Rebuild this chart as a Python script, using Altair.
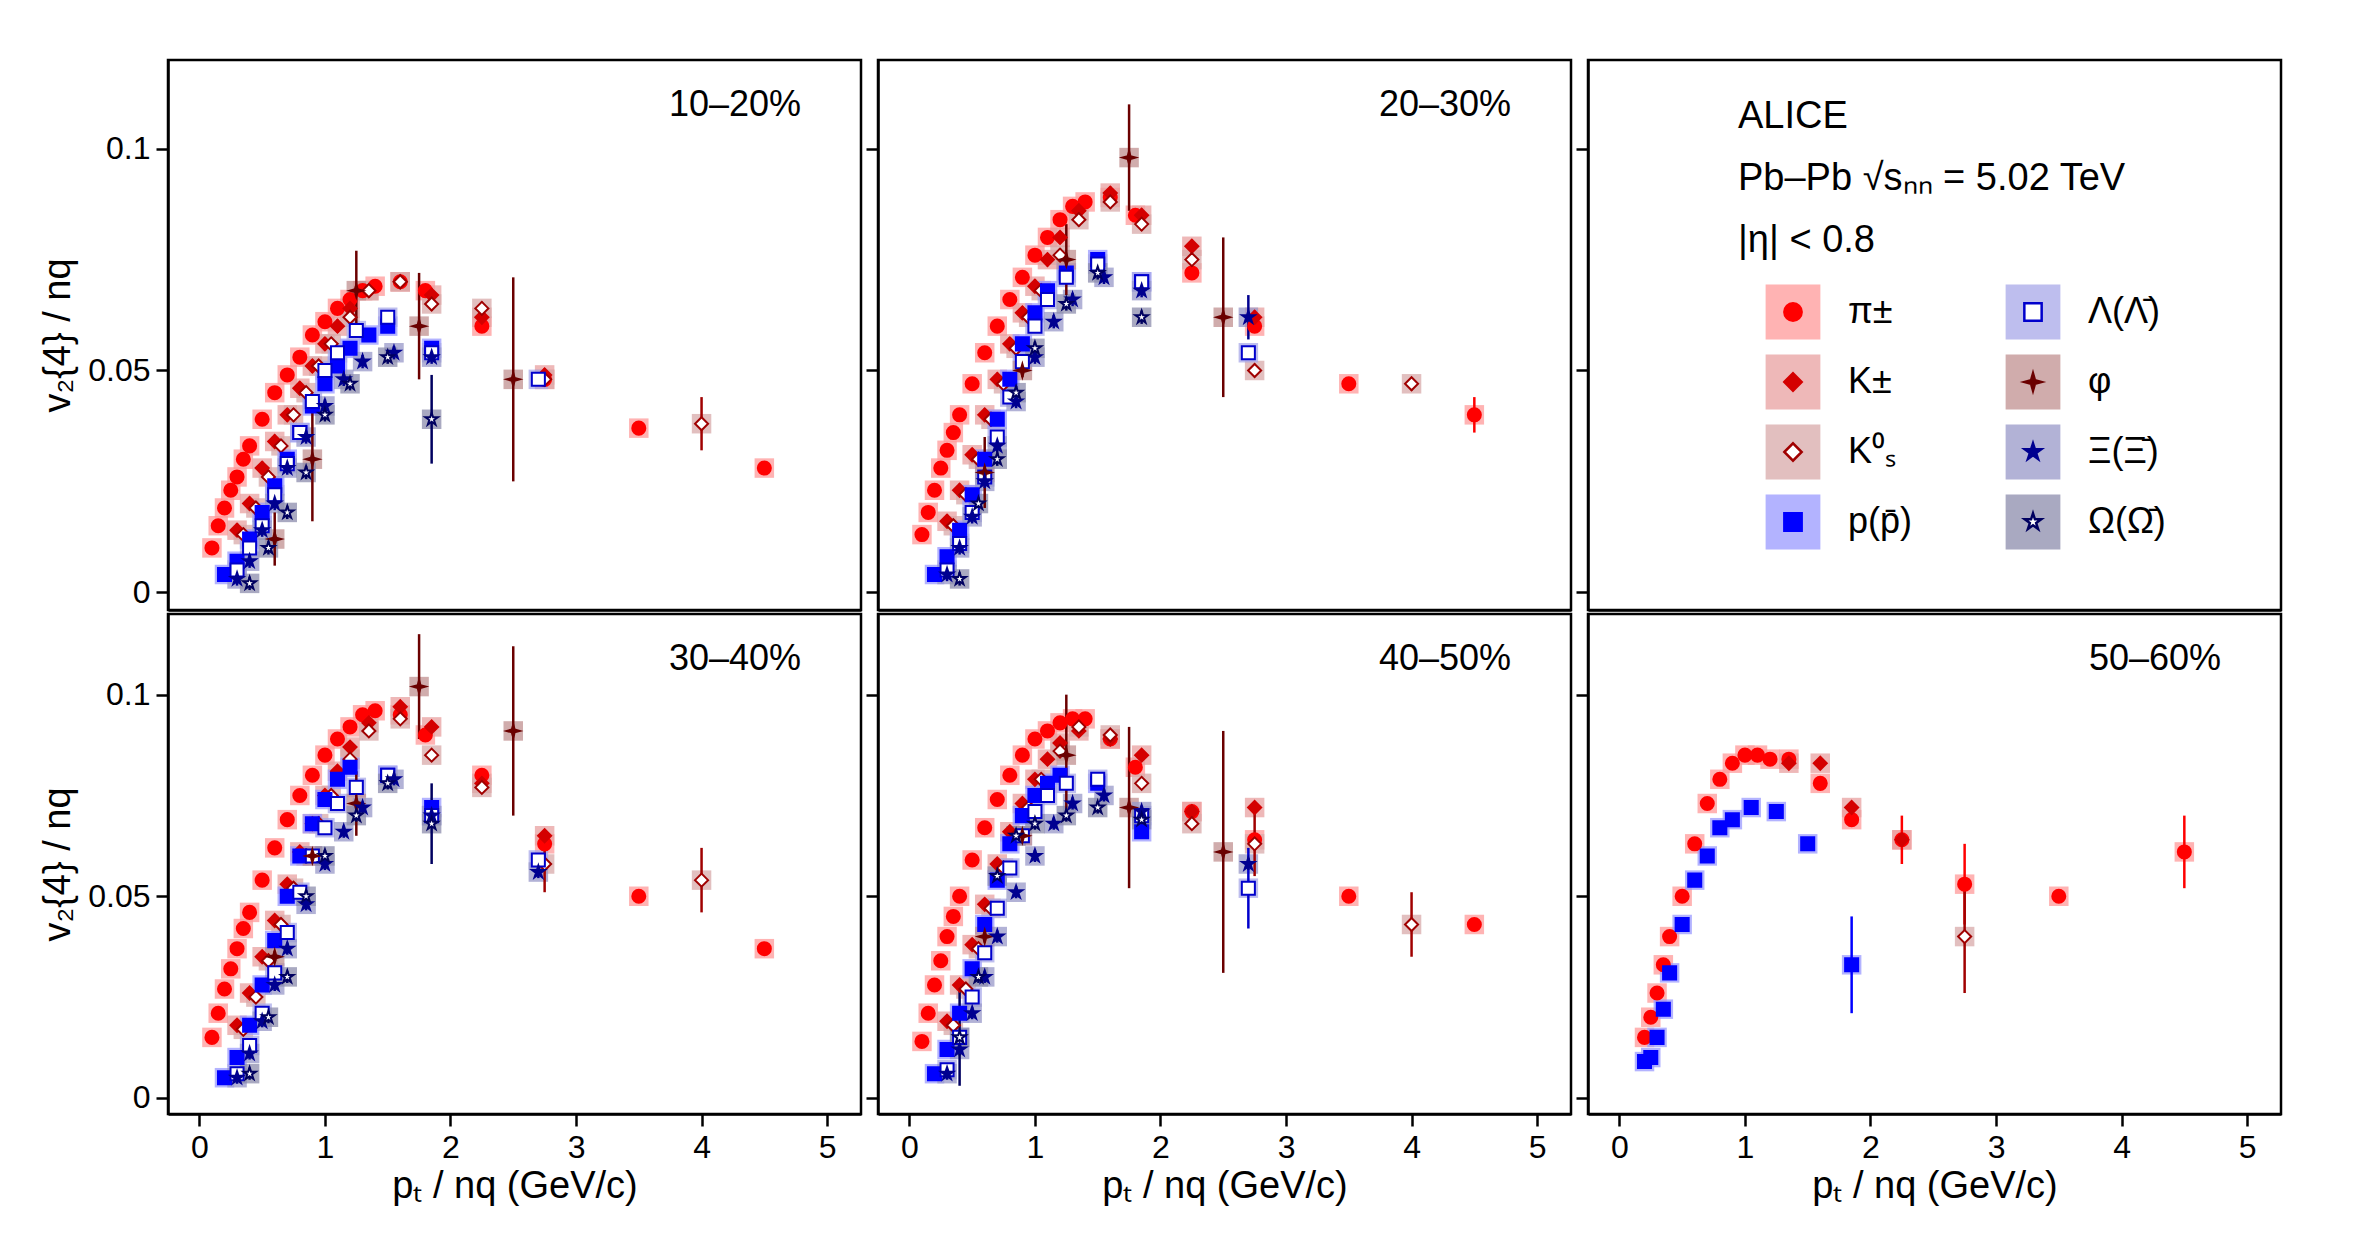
import altair as alt
import pandas as pd

SPECIES = ["π±", "K±", "K⁰ₛ", "p(p̄)", "Λ(Λ̄)", "φ", "Ξ(Ξ̄)", "Ω(Ω̄)"]

DATA = {
 "10–20%": {
  "π±": ([0.1,0.15,0.2,0.25,0.3,0.35,0.4,0.5,0.6,0.7,0.8,0.9,1.0,1.1,1.2,1.3,1.4,1.6,1.8,2.25,2.75,3.5,4.5],
         [0.010,0.015,0.019,0.023,0.026,0.030,0.033,0.039,0.045,0.049,0.053,0.058,0.061,0.064,0.066,0.068,0.069,0.070,0.068,0.060,0.048,0.037,0.028]),
  "K±": ([0.3,0.4,0.5,0.6,0.7,0.8,0.9,1.0,1.1,1.2,1.35,1.6,1.85,2.25,2.75],
         [0.014,0.020,0.028,0.034,0.040,0.046,0.051,0.056,0.060,0.064,0.068,0.070,0.067,0.062,0.049]),
  "K⁰ₛ": ([0.35,0.45,0.55,0.65,0.75,0.85,0.95,1.05,1.2,1.35,1.6,1.85,2.25,2.75,4.0],
          [0.013,0.019,0.026,0.033,0.040,0.045,0.051,0.056,0.062,0.068,0.070,0.065,0.064,0.048,0.038]),
  "p(p̄)": ([0.2,0.3,0.4,0.5,0.6,0.7,0.8,0.9,1.0,1.1,1.2,1.35,1.5,1.85],
           [0.004,0.007,0.012,0.018,0.024,0.030,0.036,0.042,0.047,0.051,0.055,0.058,0.060,0.055]),
  "Λ(Λ̄)": ([0.3,0.4,0.5,0.6,0.7,0.8,0.9,1.0,1.1,1.25,1.5,1.85,2.7],
           [0.005,0.010,0.015,0.022,0.029,0.036,0.043,0.050,0.054,0.059,0.062,0.054,0.048]),
  "φ": ([0.6,0.9,1.25,1.75,2.5], [0.012,0.030,0.068,0.060,0.048]),
  "Ξ(Ξ̄)": ([0.3,0.4,0.5,0.6,0.7,0.85,1.0,1.15,1.3,1.55,1.85],
           [0.003,0.007,0.014,0.020,0.028,0.035,0.042,0.048,0.052,0.054,0.053]),
  "Ω(Ω̄)": ([0.4,0.55,0.7,0.85,1.0,1.2,1.5,1.85], [0.002,0.010,0.018,0.027,0.040,0.047,0.053,0.039]),
 },
 "20–30%": {
  "π±": ([0.1,0.15,0.2,0.25,0.3,0.35,0.4,0.5,0.6,0.7,0.8,0.9,1.0,1.1,1.2,1.3,1.4,1.6,1.8,2.25,2.75,3.5,4.5],
         [0.013,0.018,0.023,0.028,0.032,0.036,0.040,0.047,0.054,0.060,0.066,0.071,0.076,0.080,0.084,0.087,0.088,0.089,0.085,0.072,0.060,0.047,0.040]),
  "K±": ([0.3,0.4,0.5,0.6,0.7,0.8,0.9,1.0,1.1,1.2,1.35,1.6,1.85,2.25,2.75],
         [0.016,0.023,0.031,0.040,0.048,0.056,0.063,0.069,0.075,0.080,0.086,0.090,0.085,0.078,0.062]),
  "K⁰ₛ": ([0.35,0.45,0.55,0.65,0.75,0.85,0.95,1.05,1.2,1.35,1.6,1.85,2.25,2.75,4.0],
          [0.015,0.022,0.030,0.039,0.047,0.055,0.062,0.068,0.076,0.084,0.088,0.083,0.075,0.050,0.047]),
  "p(p̄)": ([0.2,0.3,0.4,0.5,0.6,0.7,0.8,0.9,1.0,1.1,1.25,1.5,1.85],
           [0.004,0.008,0.014,0.022,0.030,0.039,0.048,0.056,0.063,0.068,0.072,0.075,0.070]),
  "Λ(Λ̄)": ([0.3,0.4,0.5,0.6,0.7,0.8,0.9,1.0,1.1,1.25,1.5,1.85,2.7],
           [0.005,0.011,0.018,0.026,0.035,0.044,0.052,0.060,0.066,0.071,0.074,0.070,0.054]),
  "φ": ([0.6,0.9,1.25,1.75,2.5], [0.027,0.050,0.075,0.098,0.062]),
  "Ξ(Ξ̄)": ([0.3,0.4,0.5,0.6,0.7,0.85,1.0,1.15,1.3,1.55,1.85,2.7],
           [0.004,0.010,0.017,0.025,0.033,0.043,0.053,0.061,0.066,0.071,0.068,0.062]),
  "Ω(Ω̄)": ([0.4,0.55,0.7,0.85,1.0,1.25,1.5,1.85], [0.003,0.020,0.030,0.045,0.055,0.065,0.072,0.062]),
 },
 "30–40%": {
  "π±": ([0.1,0.15,0.2,0.25,0.3,0.35,0.4,0.5,0.6,0.7,0.8,0.9,1.0,1.1,1.2,1.3,1.4,1.6,1.8,2.25,2.75,3.5,4.5],
         [0.015,0.021,0.027,0.032,0.037,0.042,0.046,0.054,0.062,0.069,0.075,0.080,0.085,0.089,0.092,0.095,0.096,0.095,0.090,0.080,0.063,0.050,0.037]),
  "K±": ([0.3,0.4,0.5,0.6,0.7,0.8,0.9,1.0,1.1,1.2,1.35,1.6,1.85,2.25,2.75],
         [0.018,0.026,0.035,0.044,0.053,0.061,0.068,0.075,0.081,0.087,0.093,0.097,0.092,0.078,0.065]),
  "K⁰ₛ": ([0.35,0.45,0.55,0.65,0.75,0.85,0.95,1.05,1.2,1.35,1.6,1.85,2.25,2.75,4.0],
          [0.017,0.025,0.034,0.043,0.052,0.060,0.068,0.075,0.084,0.091,0.094,0.085,0.077,0.058,0.054]),
  "p(p̄)": ([0.2,0.3,0.4,0.5,0.6,0.7,0.8,0.9,1.0,1.1,1.2,1.5,1.85],
           [0.005,0.010,0.018,0.028,0.039,0.050,0.060,0.068,0.074,0.079,0.082,0.080,0.072]),
  "Λ(Λ̄)": ([0.3,0.4,0.5,0.6,0.7,0.8,0.9,1.0,1.1,1.25,1.5,1.85,2.7],
           [0.006,0.013,0.021,0.031,0.041,0.051,0.060,0.067,0.073,0.077,0.080,0.070,0.059]),
  "φ": ([0.6,0.9,1.25,1.75,2.5], [0.035,0.060,0.073,0.102,0.091]),
  "Ξ(Ξ̄)": ([0.3,0.4,0.5,0.6,0.7,0.85,1.0,1.15,1.3,1.55,1.85,2.7],
           [0.005,0.011,0.019,0.028,0.037,0.048,0.058,0.066,0.072,0.079,0.070,0.056]),
  "Ω(Ω̄)": ([0.4,0.55,0.7,0.85,1.0,1.25,1.5,1.85], [0.006,0.020,0.030,0.050,0.060,0.070,0.078,0.068]),
 },
 "40–50%": {
  "π±": ([0.1,0.15,0.2,0.25,0.3,0.35,0.4,0.5,0.6,0.7,0.8,0.9,1.0,1.1,1.2,1.3,1.4,1.6,1.8,2.25,2.75,3.5,4.5],
         [0.014,0.021,0.028,0.034,0.040,0.045,0.050,0.059,0.067,0.074,0.080,0.085,0.089,0.091,0.093,0.094,0.094,0.089,0.082,0.071,0.064,0.050,0.043]),
  "K±": ([0.3,0.4,0.5,0.6,0.7,0.8,0.9,1.0,1.1,1.2,1.35,1.6,1.85,2.25,2.75],
         [0.019,0.028,0.038,0.048,0.058,0.066,0.073,0.079,0.084,0.088,0.091,0.089,0.085,0.071,0.072]),
  "K⁰ₛ": ([0.35,0.45,0.55,0.65,0.75,0.85,0.95,1.05,1.2,1.35,1.6,1.85,2.25,2.75,4.0],
          [0.018,0.027,0.037,0.047,0.057,0.065,0.072,0.079,0.086,0.092,0.090,0.078,0.068,0.063,0.043]),
  "p(p̄)": ([0.2,0.3,0.4,0.5,0.6,0.7,0.8,0.9,1.0,1.1,1.2,1.5,1.85],
           [0.006,0.012,0.021,0.032,0.043,0.054,0.063,0.070,0.075,0.078,0.080,0.078,0.066]),
  "Λ(Λ̄)": ([0.3,0.4,0.5,0.6,0.7,0.8,0.9,1.0,1.1,1.25,1.5,1.85,2.7],
           [0.007,0.015,0.025,0.036,0.047,0.057,0.065,0.071,0.075,0.078,0.079,0.070,0.052]),
  "φ": ([0.6,0.9,1.25,1.75,2.5], [0.040,0.065,0.085,0.072,0.061]),
  "Ξ(Ξ̄)": ([0.3,0.4,0.5,0.6,0.7,0.85,1.0,1.15,1.3,1.55,1.85,2.7],
           [0.006,0.012,0.021,0.030,0.040,0.051,0.060,0.068,0.073,0.075,0.071,0.058]),
  "Ω(Ω̄)": ([0.4,0.55,0.7,0.85,1.0,1.25,1.5,1.85], [0.015,0.030,0.055,0.065,0.068,0.070,0.072,0.069]),
 },
 "50–60%": {
  "π±": ([0.2,0.25,0.3,0.35,0.4,0.5,0.6,0.7,0.8,0.9,1.0,1.1,1.2,1.35,1.6,1.85,2.25,2.75,3.5,4.5],
         [0.015,0.020,0.026,0.033,0.040,0.050,0.063,0.073,0.079,0.083,0.085,0.085,0.084,0.084,0.078,0.069,0.064,0.053,0.050,0.061]),
  "K±": ([1.35,1.6,1.85,2.25], [0.083,0.083,0.072,0.064]),
  "K⁰ₛ": ([2.75], [0.040]),
  "p(p̄)": ([0.2,0.25,0.3,0.35,0.4,0.5,0.6,0.7,0.8,0.9,1.05,1.25,1.5,1.85],
           [0.009,0.010,0.015,0.022,0.031,0.043,0.054,0.060,0.067,0.069,0.072,0.071,0.063,0.033]),
  "Λ(Λ̄)": ([], []), "φ": ([], []), "Ξ(Ξ̄)": ([], []), "Ω(Ω̄)": ([], []),
 },
}

# statistical errors for selected points (centrality, species, x) -> err
ERRS = {
 ("10–20%","φ",0.6):0.006, ("10–20%","φ",0.9):0.014, ("10–20%","φ",1.25):0.009, ("10–20%","φ",1.75):0.012,
 ("10–20%","φ",2.5):0.023, ("10–20%","Ω(Ω̄)",1.85):0.010, ("10–20%","K⁰ₛ",4.0):0.006,
 ("20–30%","φ",0.6):0.008, ("20–30%","φ",1.25):0.008, ("20–30%","φ",1.75):0.012, ("20–30%","φ",2.5):0.018,
 ("20–30%","π±",4.5):0.004, ("20–30%","Ξ(Ξ̄)",2.7):0.005,
 ("30–40%","φ",1.25):0.008, ("30–40%","φ",1.75):0.013, ("30–40%","φ",2.5):0.021, ("30–40%","K⁰ₛ",4.0):0.008,
 ("30–40%","Ω(Ω̄)",1.85):0.010, ("30–40%","K⁰ₛ",2.75):0.007,
 ("40–50%","φ",1.25):0.015, ("40–50%","φ",1.75):0.020, ("40–50%","φ",2.5):0.030, ("40–50%","K⁰ₛ",4.0):0.008,
 ("40–50%","Λ(Λ̄)",2.7):0.010, ("40–50%","K⁰ₛ",2.75):0.008, ("40–50%","Ω(Ω̄)",0.4):0.012,
 ("50–60%","p(p̄)",1.85):0.012, ("50–60%","π±",4.5):0.009, ("50–60%","π±",2.75):0.010,
 ("50–60%","K⁰ₛ",2.75):0.014, ("50–60%","π±",2.25):0.006,
}

rows = []
for c, sp in DATA.items():
    for s, (xs, ys) in sp.items():
        for x, y in zip(xs, ys):
            e = ERRS.get((c, s, x), 0.0015)
            rows.append(dict(cent=c, species=s, x=x, y=y, lo=y - e, hi=y + e))
df = pd.DataFrame(rows)
legdf = pd.DataFrame({"species": SPECIES, "col": [i // 4 for i in range(8)], "row": [i % 4 for i in range(8)]})

STAR5 = "M0,-1L0.2245,-0.309L0.951,-0.309L0.363,0.118L0.588,0.809L0,0.382L-0.588,0.809L-0.363,0.118L-0.951,-0.309L-0.2245,-0.309Z"
STAR4 = "M0,-1L0.22,-0.22L1,0L0.22,0.22L0,1L-0.22,0.22L-1,0L-0.22,-0.22Z"
shapes = ["circle", "diamond", "diamond", "square", "square", STAR4, STAR5, STAR5]
strokes = ["#ff0000", "#d40000", "#a00000", "#0000ff", "#0000cc", "#6b0000", "#000090", "#000060"]
fills = ["#ff0000", "#d40000", "white", "#0000ff", "white", "#6b0000", "#000090", "white"]
boxes = ["#ff9a9a", "#e8a0a0", "#d8aaaa", "#9a9aff", "#a8a8e8", "#c09090", "#9898c8", "#8c8cac"]

XS = alt.Scale(domain=[-0.25, 5.27], nice=False, zero=False)
YS = alt.Scale(domain=[-0.004, 0.12], nice=False, zero=False)
SHP = alt.Scale(domain=SPECIES, range=shapes)
FIL = alt.Scale(domain=SPECIES, range=fills)
STR = alt.Scale(domain=SPECIES, range=strokes)
BOX = alt.Scale(domain=SPECIES, range=boxes)
F = "Liberation Sans"
AX = dict(grid=False, tickSize=12, labelFontSize=32, titleFontSize=38, labelFont=F, titleFont=F,
          domainColor="black", tickColor="black", labelColor="black", titleColor="black",
          domainWidth=2.5, tickWidth=2.5, titleFontWeight="normal", labelPadding=6)

def panel(cent, w, h, show_y, bottom):
    d = df[df.cent == cent] if cent else df.iloc[0:0]
    base = alt.Chart(d)
    xax = alt.Axis(values=[0,1,2,3,4,5], labels=bottom, ticks=bottom, format="d",
                   title="pₜ / nq (GeV/c)" if bottom else None, titlePadding=4, **AX)
    yax = alt.Axis(values=[0, 0.05, 0.1], labels=show_y, format="~g",
                   title="v₂{4} / nq" if show_y else None, titlePadding=10, **AX)
    box = base.mark_square(size=380, opacity=0.75).encode(
        x=alt.X("x:Q", scale=XS, axis=xax), y=alt.Y("y:Q", scale=YS, axis=yax),
        color=alt.Color("species:N", scale=BOX, legend=None))
    if cent:
        err = base.mark_rule(strokeWidth=2.5).encode(
            x="x:Q", y="lo:Q", y2="hi:Q",
            stroke=alt.Stroke("species:N", scale=STR, legend=None))
        pts = base.mark_point(filled=True, size=170, strokeWidth=2, opacity=1).encode(
            x="x:Q", y="y:Q",
            shape=alt.Shape("species:N", scale=SHP, legend=None),
            fill=alt.Fill("species:N", scale=FIL, legend=None),
            stroke=alt.Stroke("species:N", scale=STR, legend=None))
        lab = alt.Chart(pd.DataFrame({"t": [cent]})).mark_text(
            align="right", baseline="top", fontSize=36, font=F).encode(
            text="t:N", x=alt.value(w - 60), y=alt.value(28))
        return alt.layer(box, err, pts, lab).properties(width=w, height=h)
    layers = [box]
    for t, yy in [("ALICE", 38), ("Pb–Pb √sₙₙ = 5.02 TeV", 100), ("|η| < 0.8", 162)]:
        layers.append(alt.Chart(pd.DataFrame({"t": [t]})).mark_text(
            align="left", baseline="top", fontSize=38, font=F).encode(
            text="t:N", x=alt.value(150), y=alt.value(yy)))
    lb = alt.Chart(legdf)
    lx = alt.X("col:Q", scale=alt.Scale(domain=[0, 1], range=[205, 445]), axis=None)
    ly = alt.Y("row:Q", scale=alt.Scale(domain=[0, 3], range=[252, 462]), axis=None)
    leg_box = lb.mark_square(size=3000, opacity=0.75).encode(
        x=lx, y=ly, color=alt.Color("species:N", scale=BOX, legend=None))
    leg_pt = lb.mark_point(filled=True, size=300, strokeWidth=2.5, opacity=1).encode(
        x=lx, y=ly,
        shape=alt.Shape("species:N", scale=SHP, legend=None),
        fill=alt.Fill("species:N", scale=FIL, legend=None),
        stroke=alt.Stroke("species:N", scale=STR, legend=None))
    leg_tx = lb.mark_text(align="left", baseline="middle", dx=55, fontSize=36, font=F).encode(
        x=lx, y=ly, text="species:N")
    layers += [leg_box, leg_pt, leg_tx]
    return alt.layer(*layers).resolve_scale(x="independent", y="independent").properties(width=w, height=h)

W = 693
top = alt.hconcat(panel("10–20%", W, 550, True, False),
                  panel("20–30%", W, 550, False, False),
                  panel(None, W, 550, False, False), spacing=0)
bot = alt.hconcat(panel("30–40%", W, 500, True, True),
                  panel("40–50%", W, 500, False, True),
                  panel("50–60%", W, 500, False, True), spacing=0)
chart = alt.vconcat(top, bot, spacing=0).properties(
    padding={"left": 30, "top": 50, "right": 5, "bottom": 5}).configure_view(stroke="black", strokeWidth=2.5)

chart.save("out.html", embed_options={"renderer": "svg", "actions": False})
